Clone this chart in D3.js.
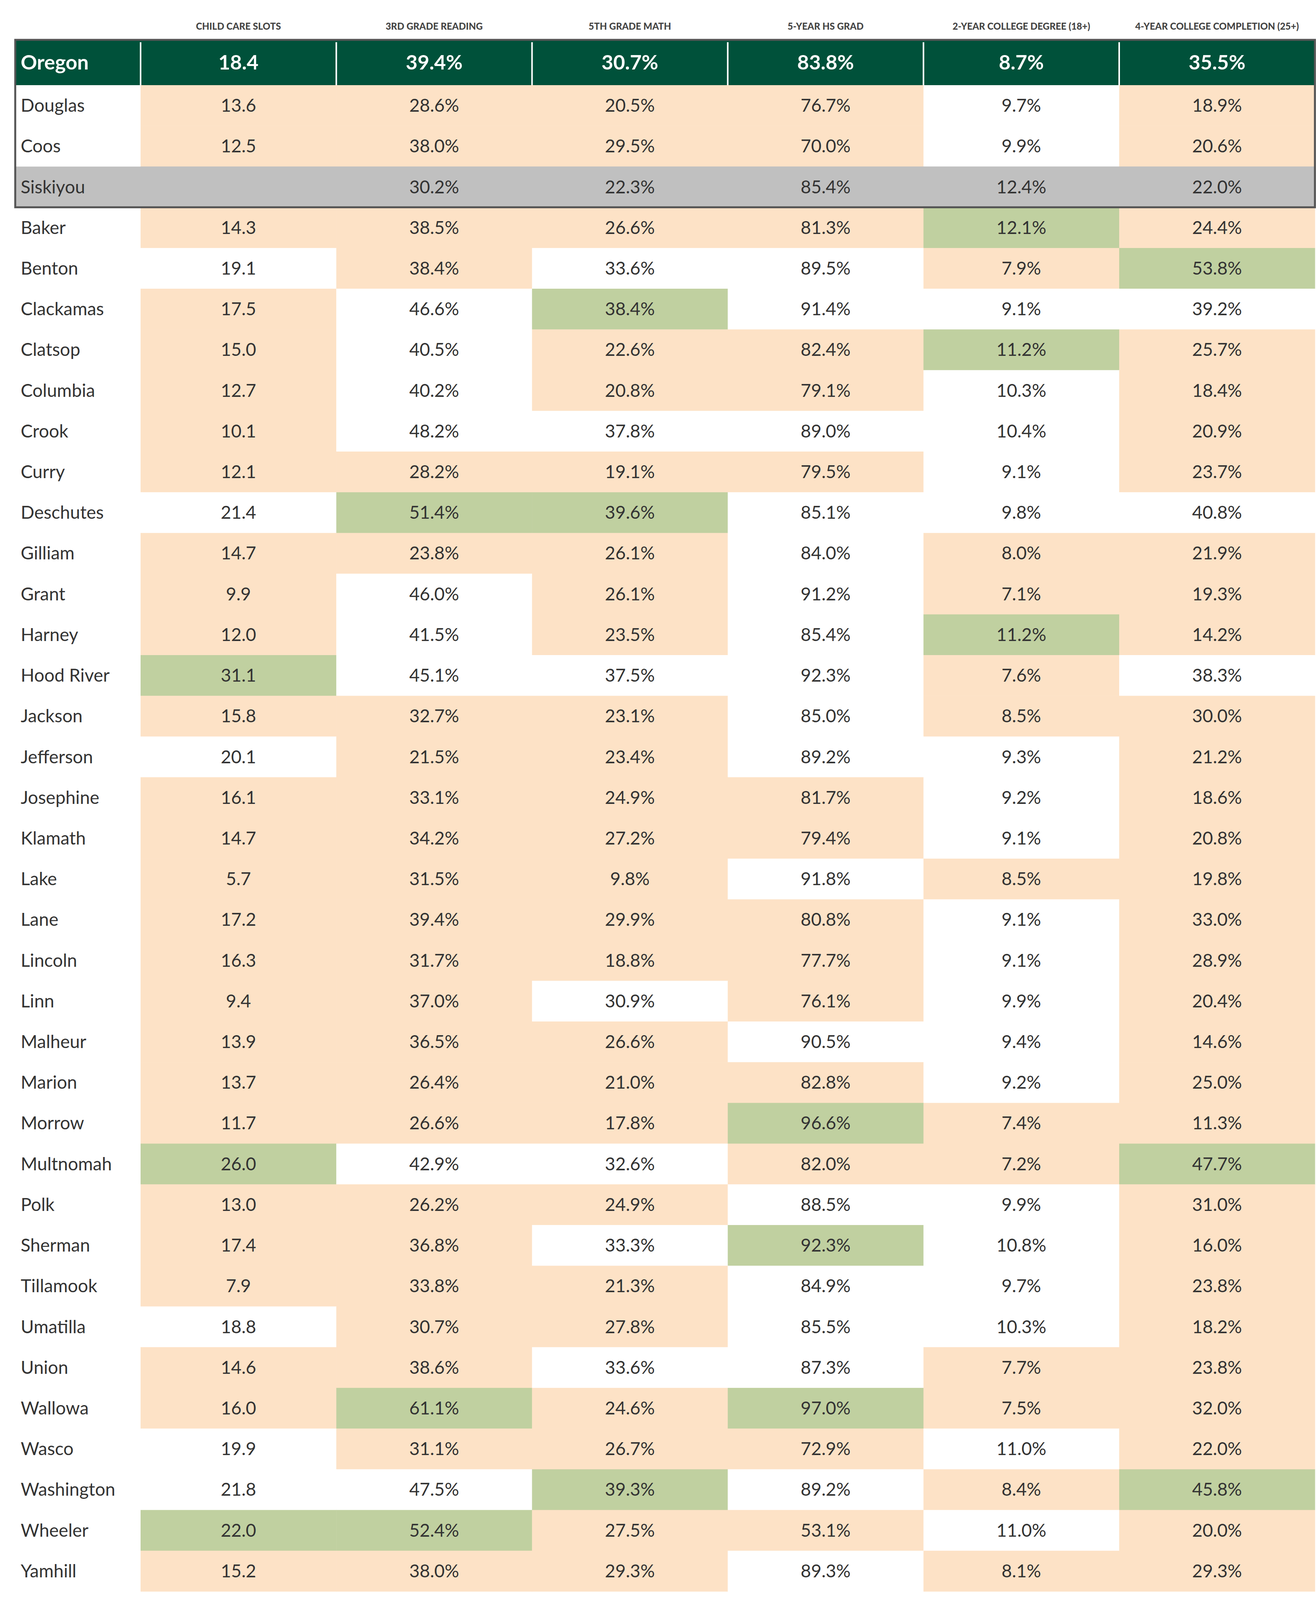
<!DOCTYPE html>
<html>
<head>
<meta charset="utf-8">
<script src="https://cdn.jsdelivr.net/npm/d3@7"></script>
<style>
  body { margin: 0; background: #fff; }
  text { font-family: Lato, "Open Sans", sans-serif; }
</style>
</head>
<body>
<svg id="chart" width="3370" height="4110"></svg>
<script>
// column headers
const headers = ["CHILD CARE SLOTS", "3RD GRADE READING", "5TH GRADE MATH", "5-YEAR HS GRAD",
                 "2-YEAR COLLEGE DEGREE (18+)", "4-YEAR COLLEGE COMPLETION (25+)"];
const pctCols = [false, true, true, true, true, true];

const stateName = "Oregon";
const stateValues = [18.4, 39.4, 30.7, 83.8, 8.7, 35.5];

const counties = ["Douglas", "Coos", "Siskiyou", "Baker", "Benton", "Clackamas", "Clatsop", "Columbia",
  "Crook", "Curry", "Deschutes", "Gilliam", "Grant", "Harney", "Hood River", "Jackson", "Jefferson",
  "Josephine", "Klamath", "Lake", "Lane", "Lincoln", "Linn", "Malheur", "Marion", "Morrow", "Multnomah",
  "Polk", "Sherman", "Tillamook", "Umatilla", "Union", "Wallowa", "Wasco", "Washington", "Wheeler", "Yamhill"];

const childCare = [13.6, 12.5, null, 14.3, 19.1, 17.5, 15.0, 12.7, 10.1, 12.1, 21.4, 14.7, 9.9, 12.0, 31.1, 15.8, 20.1,
  16.1, 14.7, 5.7, 17.2, 16.3, 9.4, 13.9, 13.7, 11.7, 26.0, 13.0, 17.4, 7.9, 18.8, 14.6, 16.0, 19.9, 21.8, 22.0, 15.2];
const reading3 = [28.6, 38.0, 30.2, 38.5, 38.4, 46.6, 40.5, 40.2, 48.2, 28.2, 51.4, 23.8, 46.0, 41.5, 45.1, 32.7, 21.5,
  33.1, 34.2, 31.5, 39.4, 31.7, 37.0, 36.5, 26.4, 26.6, 42.9, 26.2, 36.8, 33.8, 30.7, 38.6, 61.1, 31.1, 47.5, 52.4, 38.0];
const math5 = [20.5, 29.5, 22.3, 26.6, 33.6, 38.4, 22.6, 20.8, 37.8, 19.1, 39.6, 26.1, 26.1, 23.5, 37.5, 23.1, 23.4,
  24.9, 27.2, 9.8, 29.9, 18.8, 30.9, 26.6, 21.0, 17.8, 32.6, 24.9, 33.3, 21.3, 27.8, 33.6, 24.6, 26.7, 39.3, 27.5, 29.3];
const hsGrad = [76.7, 70.0, 85.4, 81.3, 89.5, 91.4, 82.4, 79.1, 89.0, 79.5, 85.1, 84.0, 91.2, 85.4, 92.3, 85.0, 89.2,
  81.7, 79.4, 91.8, 80.8, 77.7, 76.1, 90.5, 82.8, 96.6, 82.0, 88.5, 92.3, 84.9, 85.5, 87.3, 97.0, 72.9, 89.2, 53.1, 89.3];
const college2 = [9.7, 9.9, 12.4, 12.1, 7.9, 9.1, 11.2, 10.3, 10.4, 9.1, 9.8, 8.0, 7.1, 11.2, 7.6, 8.5, 9.3,
  9.2, 9.1, 8.5, 9.1, 9.1, 9.9, 9.4, 9.2, 7.4, 7.2, 9.9, 10.8, 9.7, 10.3, 7.7, 7.5, 11.0, 8.4, 11.0, 8.1];
const college4 = [18.9, 20.6, 22.0, 24.4, 53.8, 39.2, 25.7, 18.4, 20.9, 23.7, 40.8, 21.9, 19.3, 14.2, 38.3, 30.0, 21.2,
  18.6, 20.8, 19.8, 33.0, 28.9, 20.4, 14.6, 25.0, 11.3, 47.7, 31.0, 16.0, 23.8, 18.2, 23.8, 32.0, 22.0, 45.8, 20.0, 29.3];
const columns = [childCare, reading3, math5, hsGrad, college2, college4];

// shading per county: p = below state, g = well above, w = neutral, s = comparison (Siskiyou)
const shading = ["ppppwp", "ppppwp", "ssssss", "pppppgp".slice(0, 6).replace(/.{4}$/, "ppgp"), "wpwwpg", "pwgwww",
  "pwppgp", "pwppwp", "pwwwwp", "ppppwp", "wggwww", "pppwpp", "pwpwpp", "pwpwgp", "gwwwpw", "pppwpp", "wppwwp",
  "ppppwp", "ppppwp", "pppwpp", "ppppwp", "ppppwp", "ppwpwp", "pppwwp", "ppppwp", "pppgpp", "gwwppg",
  "pppwwp", "ppwgwp", "pppwwp", "wppwwp", "ppwwpp", "pgpgpp", "wpppwp", "wwgwpg", "ggppwp", "pppwpp"];

const colors = { p: "#FDE2C6", g: "#C0D0A0", w: "#FFFFFF", s: "#C0C0C0" };

const svg = d3.select("#chart");
const x0 = 39, nameW = 321, colW = 501.2, headTop = 102, headH = 116;

const x = d3.scaleBand().domain(d3.range(headers.length)).range([x0 + nameW, x0 + nameW + colW * headers.length]);
const y = d3.scaleBand().domain(d3.range(counties.length)).range([headTop + headH, 4074]);

const fmt = (v, i) => v == null ? "" : (pctCols[i] ? v.toFixed(1) + "%" : v.toFixed(1));

// header labels
svg.selectAll("text.hdr").data(headers).join("text")
  .attr("class", "hdr")
  .attr("x", (d, i) => x(i) + x.bandwidth() / 2)
  .attr("y", 76)
  .attr("text-anchor", "middle")
  .attr("font-size", 24).attr("font-weight", 900)
  .attr("fill", "#444")
  .text(d => d);

// state row
svg.append("rect").attr("x", x0).attr("y", headTop).attr("width", x.range()[1] - x0).attr("height", headH)
  .attr("fill", "#00513A");
svg.selectAll("line.sep").data(d3.range(headers.length)).join("line")
  .attr("x1", i => x(i)).attr("x2", i => x(i))
  .attr("y1", headTop + 6).attr("y2", headTop + headH)
  .attr("stroke", "#fff").attr("stroke-width", 4);
svg.append("text").attr("x", x0 + 14).attr("y", headTop + headH / 2 + 18)
  .attr("font-size", 52).attr("font-weight", 700).attr("fill", "#fff").text(stateName);
svg.selectAll("text.sv").data(stateValues).join("text")
  .attr("class", "sv")
  .attr("x", (d, i) => x(i) + x.bandwidth() / 2)
  .attr("y", headTop + headH / 2 + 18)
  .attr("text-anchor", "middle")
  .attr("font-size", 52).attr("font-weight", 700).attr("fill", "#fff")
  .text((d, i) => fmt(d, i));

// county rows
const rows = svg.selectAll("g.row").data(counties).join("g")
  .attr("class", "row")
  .attr("transform", (d, r) => `translate(0,${y(r)})`);

rows.filter((d, r) => shading[r][0] === "s").append("rect")
  .attr("x", x0).attr("width", x.range()[1] - x0).attr("height", y.bandwidth())
  .attr("fill", colors.s);

rows.selectAll("rect.cell").data((d, r) => columns.map((c, i) => ({ v: c[r], i, k: shading[r][i] })))
  .join("rect")
  .attr("class", "cell")
  .attr("x", d => x(d.i)).attr("width", x.bandwidth() + 0.5).attr("height", y.bandwidth() + 0.5)
  .attr("fill", d => colors[d.k]);

rows.append("text").attr("x", x0 + 14).attr("y", y.bandwidth() / 2 + 16)
  .attr("font-size", 46).attr("fill", "#333").text(d => d);

rows.selectAll("text.val").data((d, r) => columns.map((c, i) => ({ v: c[r], i })))
  .join("text")
  .attr("class", "val")
  .attr("x", d => x(d.i) + x.bandwidth() / 2)
  .attr("y", y.bandwidth() / 2 + 16)
  .attr("text-anchor", "middle")
  .attr("font-size", 46).attr("fill", "#333")
  .text(d => fmt(d.v, d.i));

// border round state + first three counties
svg.append("rect").attr("x", x0).attr("y", headTop)
  .attr("width", x.range()[1] - x0).attr("height", y(2) + y.bandwidth() - headTop)
  .attr("fill", "none").attr("stroke", "#555").attr("stroke-width", 5);
</script>
</body>
</html>
